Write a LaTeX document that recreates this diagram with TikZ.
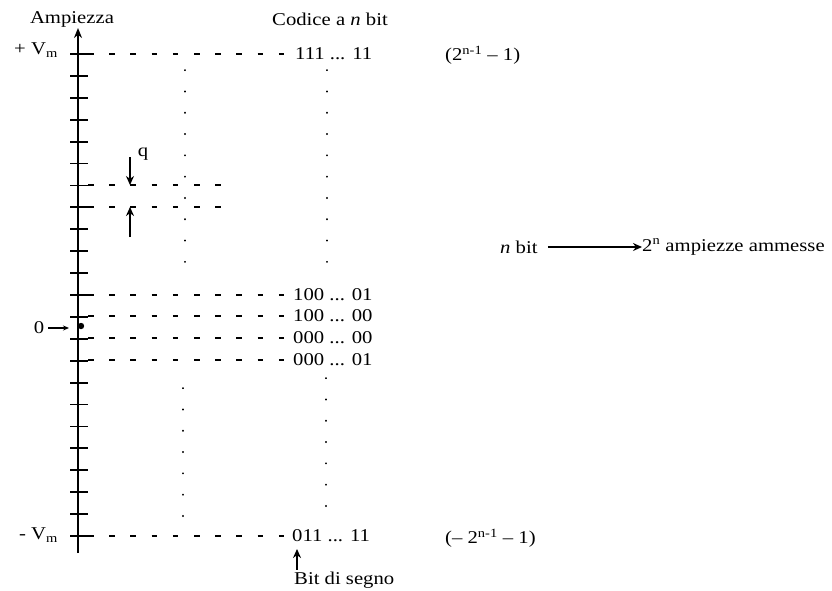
\documentclass[tikz,border=0pt]{standalone}
\usepackage{fontspec}
\setmainfont[FakeStretch=1.15]{Liberation Serif}
\usetikzlibrary{arrows.meta}
\begin{document}
\begin{tikzpicture}[x=1pt,y=-1pt,
  lbl/.style={inner sep=0pt, font=\fontsize{18}{20}\selectfont},
  axisline/.style={line width=2.3pt, -{Stealth[length=10pt,width=8pt]}},
  tickmark/.style={line width=1.8pt},
  level/.style={line width=2.2pt, dash pattern=on 5.5pt off 15.7pt},
  dotcol/.style={line width=1.8pt, line cap=round, dash pattern=on 0.3pt off 21pt},
  ptr/.style={line width=1.8pt, -{Stealth[length=9pt,width=8pt]}},
  smallptr/.style={line width=1.3pt, -{Stealth[length=6pt,width=5pt]}}
]
\useasboundingbox (0,0) rectangle (832,590);

% axis
\coordinate (abot) at (78,553);
\coordinate (atop) at (78,28);
\draw[axisline] (abot) -- (atop);
\foreach \i in {0,...,22}
  \draw[tickmark] (70,54+\i*21.909) -- (88,54+\i*21.909);

% titles
\node[lbl] (amp) at (72,19) {Ampiezza};
\node[lbl] (cod) at (330,19) {Codice a \textit{n} bit};

% side labels
\node[lbl, anchor=east] (vmax) at (58,50) {+ V\textsubscript{m}};
\node[lbl, anchor=east] (vmin) at (58,535) {- V\textsubscript{m}};

% code labels
\node[lbl, anchor=west] (c111) at (295,54) {111 ... 11};
\node[lbl, anchor=west] (c10001) at (293,295) {100 ... 01};
\node[lbl, anchor=west] (c10000) at (293,316) {100 ... 00};
\node[lbl, anchor=west] (c00000) at (293,338) {000 ... 00};
\node[lbl, anchor=west] (c00001) at (293,360) {000 ... 01};
\node[lbl, anchor=west] (c01111) at (292,536) {011 ... 11};

\node[lbl, anchor=west] (pmax) at (445,55) {(2\textsuperscript{n-1} – 1)};
\node[lbl, anchor=west] (pmin) at (445,538) {(– 2\textsuperscript{n-1} – 1)};

% level lines
\coordinate (l1) at (88,54);
\coordinate (l2) at (88,295);
\coordinate (l3) at (88,316);
\coordinate (l4) at (88,338);
\coordinate (l5) at (88,360);
\coordinate (l6) at (88,536);
\draw[level] (l1) -- (c111.west |- l1);
\draw[level] (l2) -- (c10001.west |- l2);
\draw[level] (l3) -- (c10000.west |- l3);
\draw[level] (l4) -- (c00000.west |- l4);
\draw[level] (l5) -- (c00001.west |- l5);
\draw[level] (l6) -- (c01111.west |- l6);

% q lines
\coordinate (qa1) at (88,185);
\coordinate (qa2) at (222,185);
\coordinate (qb1) at (88,207);
\coordinate (qb2) at (222,207);
\draw[level] (qa1) -- (qa2);
\draw[level] (qb1) -- (qb2);
\node[lbl] (q) at (143,154) {q};
\coordinate (qt0) at (130,157);
\coordinate (qt1) at (130,185);
\coordinate (qu0) at (130,237);
\coordinate (qu1) at (130,207);
\draw[ptr] (qt0) -- (qt1);
\draw[ptr] (qu0) -- (qu1);

% dotted verticals
\draw[dotcol] (185,70) -- (185,276);
\draw[dotcol] (183,388) -- (183,520);
\draw[dotcol] (327,70) -- (327,270);
\draw[dotcol] (326,378) -- (326,508);

% zero marker
\node[lbl] (zero) at (39,328) {0};
\coordinate (zarr) at (69,328);
\draw[smallptr] (zero.east) ++(4,0) -- (zarr);
\fill (81,326) circle (3.2pt);

% sign bit
\node[lbl, anchor=west] (sign) at (294,580) {Bit di segno};
\coordinate (signtip) at (297,549);
\draw[ptr] (sign.north west) ++(3,-2) -- (signtip);

% right note
\node[lbl, anchor=west] (nbit) at (500,247) {\textit{n} bit};
\node[lbl, anchor=west] (amm) at (642,247) {2\textsuperscript{n} ampiezze ammesse};
\draw[ptr] (nbit.east) ++(10,0) -- (amm.west);
\end{tikzpicture}
\end{document}
